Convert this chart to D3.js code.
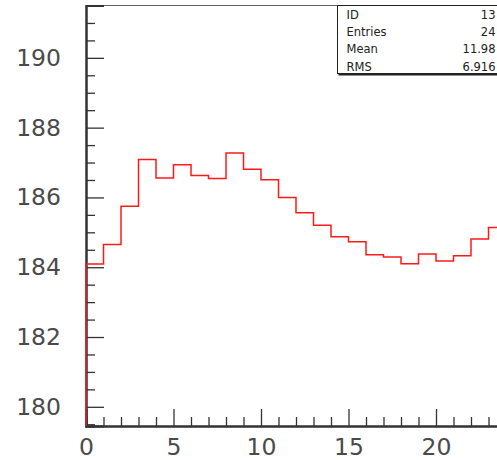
<!DOCTYPE html>
<html>
<head>
<meta charset="utf-8">
<script src="https://cdn.jsdelivr.net/npm/d3@7"></script>
<style>
  html, body { margin: 0; padding: 0; background: #fff; }
  svg { display: block; }
  text { font-family: "DejaVu Sans", sans-serif; }
</style>
</head>
<body>
<script>
// Histogram contents: 24 unit-wide bins from 0 to 24
const binEdgesLow = d3.range(0, 24);
const binContents = [
  184.09, 184.65, 185.75, 187.09, 186.56, 186.94, 186.63, 186.54,
  187.27, 186.81, 186.51, 186.00, 185.56, 185.20, 184.87, 184.73,
  184.36, 184.29, 184.10, 184.38, 184.18, 184.33, 184.81, 185.14
];
const yMajorTicks = [180, 182, 184, 186, 188, 190];
const xMajorTicks = [0, 5, 10, 15, 20];
const statLabels = ["ID", "Entries", "Mean", "RMS"];
const statValues = ["13", "24", "11.98", "6.916"];

const W = 497, H = 460;
const svg = d3.select("body").append("svg").attr("width", W).attr("height", H);

const x = d3.scaleLinear().domain([0, 24]).range([86, 506]);
const y = d3.scaleLinear().domain([179.45, 191.5]).range([426, 5.5]);

const axisColor = "#333";

// Frame top edge
svg.append("line")
  .attr("x1", x(0)).attr("x2", x(24))
  .attr("y1", y.range()[1]).attr("y2", y.range()[1])
  .attr("stroke", "#666").attr("stroke-width", 1);

// Y axis: minor ticks every 0.5, major every 2
const yMinor = d3.range(179.5, 191.51, 0.5).filter(v => !yMajorTicks.includes(v));
const yMinorAxis = svg.append("g").attr("transform", `translate(${x(0)},0)`)
  .call(d3.axisLeft(y).tickValues(yMinor).tickSize(-9).tickFormat(""));
const yAxis = svg.append("g").attr("transform", `translate(${x(0)},0)`)
  .call(d3.axisLeft(y).tickValues(yMajorTicks).tickSize(-18).tickPadding(25).tickFormat(d3.format("d")));

// X axis: minor ticks every 1, major every 5
const xMinor = d3.range(0, 25).filter(v => !xMajorTicks.includes(v));
const xMinorAxis = svg.append("g").attr("transform", `translate(0,${y.range()[0]})`)
  .call(d3.axisBottom(x).tickValues(xMinor).tickSize(-9).tickFormat(""));
const xAxis = svg.append("g").attr("transform", `translate(0,${y.range()[0]})`)
  .call(d3.axisBottom(x).tickValues(xMajorTicks).tickSize(-17).tickPadding(12).tickFormat(d3.format("d")));

[yMinorAxis, yAxis, xMinorAxis, xAxis].forEach(g => {
  g.selectAll(".tick line").attr("stroke", axisColor).attr("stroke-width", 1.3);
  g.select(".domain").attr("stroke", axisColor).attr("stroke-width", 2);
  g.selectAll(".tick text")
    .attr("font-family", "DejaVu Sans, sans-serif")
    .attr("font-size", 23.5)
    .attr("fill", "#4a4a4a");
});

// Histogram outline: start and end at the bottom of the frame
const base = y.domain()[0];
const pts = [[0, base]];
binEdgesLow.forEach((lo, i) => {
  pts.push([lo, binContents[i]]);
  pts.push([lo + 1, binContents[i]]);
});
pts.push([24, base]);

svg.append("path")
  .attr("d", d3.line().x(d => x(d[0])).y(d => y(d[1]))(pts))
  .attr("fill", "none")
  .attr("stroke", "#ff1a1a")
  .attr("stroke-width", 1.5);

// Statistics box with a small drop shadow
const box = svg.append("g");
box.append("rect")
  .attr("x", 338.5).attr("y", 7.5).attr("width", 163).attr("height", 68)
  .attr("fill", "#222");
box.append("rect")
  .attr("x", 337.5).attr("y", 5.5).attr("width", 163).attr("height", 68)
  .attr("fill", "#fff").attr("stroke", "#222").attr("stroke-width", 1);

const rowY = d3.scalePoint().domain(statLabels).range([18.5, 70.5]);
box.selectAll("text.lab").data(statLabels).join("text")
  .attr("class", "lab")
  .attr("x", 346.5).attr("y", d => rowY(d))
  .attr("font-size", 11.5).attr("fill", "#222")
  .text(d => d);
box.selectAll("text.val").data(statValues).join("text")
  .attr("class", "val")
  .attr("x", 495.5).attr("y", (d, i) => rowY(statLabels[i]))
  .attr("text-anchor", "end")
  .attr("font-size", 11.5).attr("fill", "#222")
  .text(d => d);
</script>
</body>
</html>
